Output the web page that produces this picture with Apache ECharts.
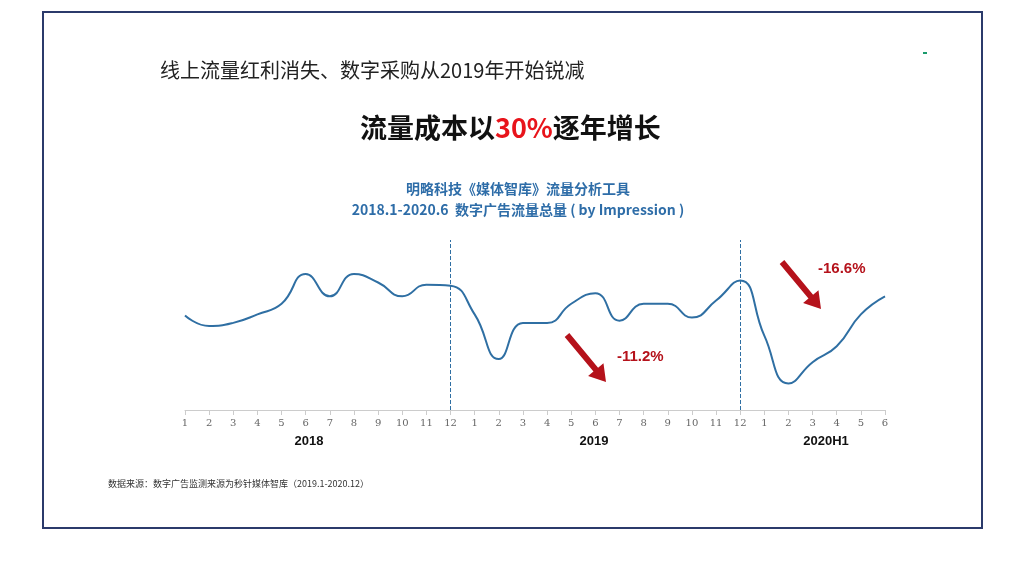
<!DOCTYPE html>
<html><head><meta charset="utf-8">
<script src="https://cdn.jsdelivr.net/npm/echarts@6/dist/echarts.min.js"></script>
<style>html,body{margin:0;background:#fff}#c{width:1022px;height:573px}</style>
</head><body><div id="c"></div>
<script>
const months = ['1','2','3','4','5','6','7','8','9','10','11','12',
  '1','2','3','4','5','6','7','8','9','10','11','12',
  '1','2','3','4','5','6']
const traffic = [89, 79, 82, 90, 100, 128, 107, 128, 120, 107, 118, 117,
  90, 48, 82, 82, 100, 110, 84, 100, 100, 87, 103, 122,
  70, 25, 45, 60, 90, 107]
const years = [['2018', 309], ['2019', 594], ['2020H1', 826]]

// 箭头多边形
function arrow(x1, y1, x2, y2) {
  const dx = x2 - x1, dy = y2 - y1, L = Math.hypot(dx, dy)
  const ux = dx / L, uy = dy / L, px = -uy, py = ux
  const w = 3, hw = 10, hl = 16
  const bx = x2 - ux * hl, by = y2 - uy * hl
  return [[x1 + px * w, y1 + py * w], [bx + px * w, by + py * w], [bx + px * hw, by + py * hw],
    [x2, y2], [bx - px * hw, by - py * hw], [bx - px * w, by - py * w], [x1 - px * w, y1 - py * w]]
}

const chart = echarts.init(document.getElementById('c'))
const graphic = [
  { type: 'rect', shape: { x: 43, y: 12, width: 939, height: 516 }, style: { fill: 'none', stroke: '#2b3a6b', lineWidth: 2 } },
  { type: 'text', left: 160, top: 60, style: { text: '线上流量红利消失、数字采购从2019年开始锐减', font: '20px "Noto Sans CJK SC"', fill: '#222' } },
  { type: 'text', left: 360, top: 114, style: { rich: { a: { font: 'bold 27px "Noto Sans CJK SC"', fill: '#111' }, b: { font: 'bold 27px "Noto Sans CJK SC"', fill: '#e8141b' } }, text: '{a|流量成本以}{b|30%}{a|逐年增长}' } },
  { type: 'text', x: 518, y: 182, style: { text: '明略科技《媒体智库》流量分析工具', font: 'bold 14px "Noto Sans CJK SC"', fill: '#2e6da8', align: 'center' } },
  { type: 'text', x: 518, y: 203, style: { text: '2018.1-2020.6  数字广告流量总量 ( by Impression )', font: 'bold 14px "Noto Sans CJK SC"', fill: '#2e6da8', align: 'center' } },
  { type: 'text', left: 108, top: 479, style: { text: '数据来源：数字广告监测来源为秒针媒体智库（2019.1-2020.12）', font: '9px "Noto Sans CJK SC"', fill: '#333' } },
  { type: 'polygon', shape: { points: arrow(567, 335, 606, 382) }, style: { fill: '#b5121b' } },
  { type: 'polygon', shape: { points: arrow(782, 262, 821, 309) }, style: { fill: '#b5121b' } },
  { type: 'text', left: 617, top: 349, style: { text: '-11.2%', font: 'bold 15px Arial', fill: '#b5121b' } },
  { type: 'text', left: 818, top: 261, style: { text: '-16.6%', font: 'bold 15px Arial', fill: '#b5121b' } },
  { type: 'rect', shape: { x: 923, y: 52, width: 4, height: 2 }, style: { fill: '#1a9b6c' } }
]
years.forEach(([t, x]) => graphic.push({ type: 'text', x: x, y: 435, style: { text: t, font: 'bold 13px Arial', fill: '#111', align: 'center' } }))

chart.setOption({
  animation: false,
  graphic: graphic,
  grid: { left: 185, right: 137, top: 240, bottom: 163 },
  xAxis: {
    type: 'category', data: months, boundaryGap: false,
    axisLine: { lineStyle: { color: '#ccc' } },
    axisTick: { show: true, alignWithLabel: true, lineStyle: { color: '#ccc' } },
    axisLabel: { color: '#666', fontFamily: 'DejaVu Serif', fontSize: 10, margin: 8 }
  },
  yAxis: { type: 'value', min: 0, max: 160, show: false, splitLine: { show: false } },
  series: [{
    type: 'line', data: traffic, smooth: 0.5, symbol: 'none',
    lineStyle: { color: '#2f6fa3', width: 2 },
    markLine: {
      symbol: 'none', silent: true, label: { show: false },
      lineStyle: { color: '#2f6fa3', type: 'dashed', width: 1 },
      data: [{ xAxis: 11 }, { xAxis: 23 }]
    }
  }]
})
</script></body></html>
